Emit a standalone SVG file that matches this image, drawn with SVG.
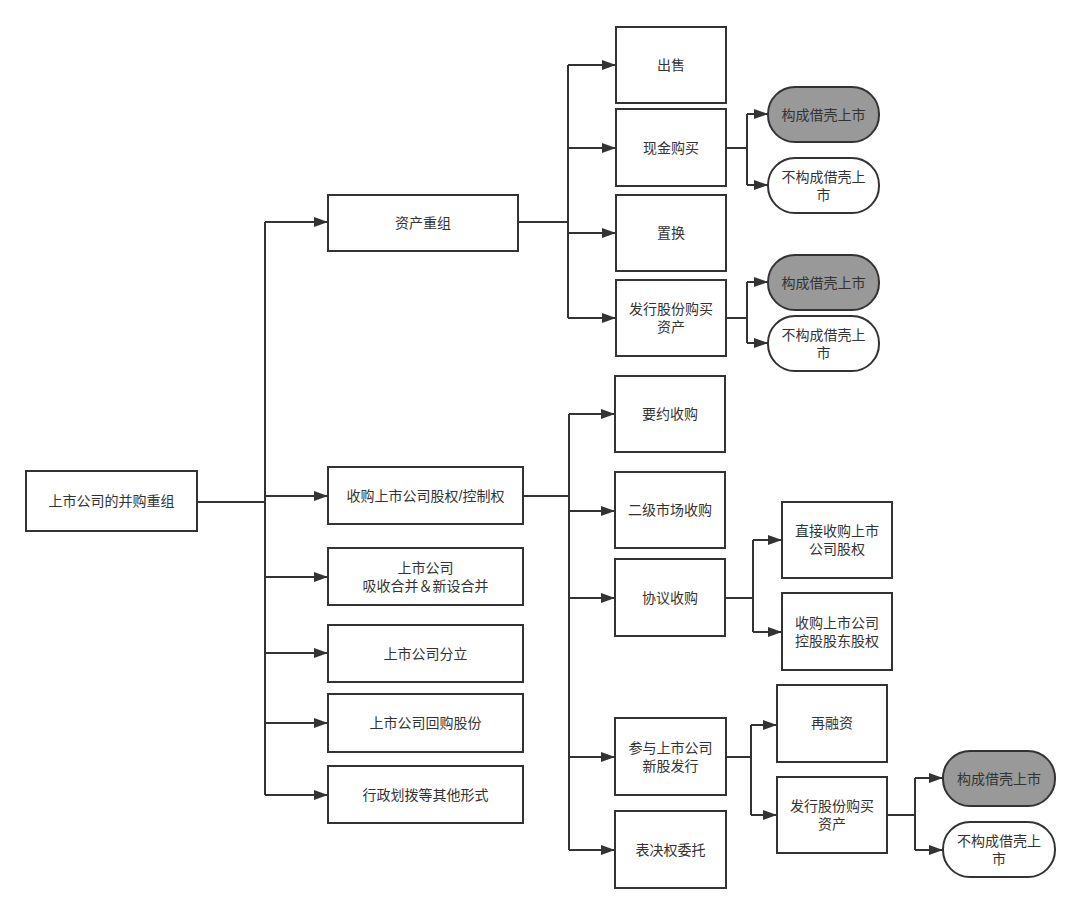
<svg xmlns="http://www.w3.org/2000/svg" width="1080" height="915" viewBox="0 0 1080 915">
<style>
.b{fill:#fff;stroke:#333;stroke-width:2}
.g{fill:#999;stroke:#333;stroke-width:2}
.t{font-family:"Liberation Sans","Noto Sans CJK SC",sans-serif;font-size:14px;fill:#333;text-anchor:middle;dominant-baseline:central}
.c{fill:none;stroke:#333;stroke-width:2}
.a{marker-end:url(#arr)}
</style>
<defs>
<marker id="arr" viewBox="0 0 14 10" refX="14" refY="5" markerWidth="14" markerHeight="10" markerUnits="userSpaceOnUse" orient="auto"><path d="M0,0 L14,5 L0,10 z" fill="#333"/></marker>
</defs>
<rect width="1080" height="915" fill="#fff"/>
<g id="connectors">
<path class="c" d="M197,502 H265 M265,222 V795"/>
<path class="c a" d="M265,222 H328"/>
<path class="c a" d="M265,496 H328"/>
<path class="c a" d="M265,577 H328"/>
<path class="c a" d="M265,653 H328"/>
<path class="c a" d="M265,723 H328"/>
<path class="c a" d="M265,795 H328"/>
<path class="c" d="M518,222 H568 M568,65 V318"/>
<path class="c a" d="M568,65 H616"/>
<path class="c a" d="M568,148 H616"/>
<path class="c a" d="M568,233 H616"/>
<path class="c a" d="M568,318 H616"/>
<path class="c" d="M726,148 H747 M747,114 V185"/>
<path class="c a" d="M747,114 H768"/>
<path class="c a" d="M747,185 H768"/>
<path class="c" d="M726,318 H747 M747,282 V343"/>
<path class="c a" d="M747,282 H768"/>
<path class="c a" d="M747,343 H768"/>
<path class="c" d="M523,496 H569 M569,414 V850"/>
<path class="c a" d="M569,414 H615"/>
<path class="c a" d="M569,511 H615"/>
<path class="c a" d="M569,598 H615"/>
<path class="c a" d="M569,757 H615"/>
<path class="c a" d="M569,850 H615"/>
<path class="c" d="M725,598 H753 M753,540 V632"/>
<path class="c a" d="M753,540 H782"/>
<path class="c a" d="M753,632 H782"/>
<path class="c" d="M726,757 H751 M751,725 V815"/>
<path class="c a" d="M751,725 H777"/>
<path class="c a" d="M751,815 H777"/>
<path class="c" d="M887,815 H915 M915,778 V850"/>
<path class="c a" d="M915,778 H943"/>
<path class="c a" d="M915,850 H943"/>
</g>
<g id="root"><rect class="b" x="26" y="471" width="171" height="60"/><text class="t" x="111.5" y="501">上市公司的并购重组</text></g>
<g id="zczz"><rect class="b" x="328" y="195" width="190" height="56"/><text class="t" x="423" y="223">资产重组</text></g>
<g id="sggq"><rect class="b" x="328" y="467" width="195" height="57"/><text class="t" x="425.5" y="495.5">收购上市公司股权/控制权</text></g>
<g id="xshb"><rect class="b" x="328" y="548" width="195" height="57"/><text class="t" x="425.5" y="567.5">上市公司</text><text class="t" x="425.5" y="585.5">吸收合并＆新设合并</text></g>
<g id="fl"><rect class="b" x="328" y="625" width="195" height="57"/><text class="t" x="425.5" y="653.5">上市公司分立</text></g>
<g id="hg"><rect class="b" x="328" y="694" width="195" height="58"/><text class="t" x="425.5" y="723">上市公司回购股份</text></g>
<g id="xzhb"><rect class="b" x="328" y="766" width="195" height="57"/><text class="t" x="425.5" y="794.5">行政划拨等其他形式</text></g>
<g id="cs"><rect class="b" x="616" y="27" width="110" height="76"/><text class="t" x="671" y="65">出售</text></g>
<g id="xjgm"><rect class="b" x="616" y="109" width="110" height="77"/><text class="t" x="671" y="147.5">现金购买</text></g>
<g id="zh"><rect class="b" x="616" y="195" width="110" height="76"/><text class="t" x="671" y="233">置换</text></g>
<g id="fxgf1"><rect class="b" x="616" y="280" width="110" height="76"/><text class="t" x="671" y="309">发行股份购买</text><text class="t" x="671" y="327">资产</text></g>
<g id="gc1"><rect class="g" x="768" y="87" width="111" height="55" rx="27" ry="27"/><text class="t" x="823.5" y="114.5">构成借壳上市</text></g>
<g id="bgc1"><rect class="b" x="768" y="158" width="111" height="55" rx="27" ry="27"/><text class="t" x="823.5" y="176.5">不构成借壳上</text><text class="t" x="823.5" y="194.5">市</text></g>
<g id="gc2"><rect class="g" x="768" y="255" width="111" height="55" rx="27" ry="27"/><text class="t" x="823.5" y="282.5">构成借壳上市</text></g>
<g id="bgc2"><rect class="b" x="768" y="316" width="111" height="55" rx="27" ry="27"/><text class="t" x="823.5" y="334.5">不构成借壳上</text><text class="t" x="823.5" y="352.5">市</text></g>
<g id="yysg"><rect class="b" x="615" y="376" width="110" height="76"/><text class="t" x="670" y="414">要约收购</text></g>
<g id="ejsc"><rect class="b" x="615" y="472" width="110" height="76"/><text class="t" x="670" y="510">二级市场收购</text></g>
<g id="xysg"><rect class="b" x="615" y="559" width="110" height="77"/><text class="t" x="670" y="597.5">协议收购</text></g>
<g id="zjsg"><rect class="b" x="782" y="502" width="110" height="76"/><text class="t" x="837" y="531">直接收购上市</text><text class="t" x="837" y="549">公司股权</text></g>
<g id="sgkg"><rect class="b" x="782" y="593" width="110" height="77"/><text class="t" x="837" y="622.5">收购上市公司</text><text class="t" x="837" y="640.5">控股股东股权</text></g>
<g id="cy"><rect class="b" x="615" y="718" width="111" height="77"/><text class="t" x="670.5" y="747.5">参与上市公司</text><text class="t" x="670.5" y="765.5">新股发行</text></g>
<g id="bjq"><rect class="b" x="615" y="811" width="111" height="77"/><text class="t" x="670.5" y="849.5">表决权委托</text></g>
<g id="zrz"><rect class="b" x="777" y="685" width="110" height="77"/><text class="t" x="832" y="723">再融资</text></g>
<g id="fxgf2"><rect class="b" x="777" y="777" width="110" height="76"/><text class="t" x="832" y="805.5">发行股份购买</text><text class="t" x="832" y="823.5">资产</text></g>
<g id="gc3"><rect class="g" x="943" y="751" width="112" height="55" rx="27" ry="27"/><text class="t" x="999" y="778.5">构成借壳上市</text></g>
<g id="bgc3"><rect class="b" x="943" y="822" width="112" height="55" rx="27" ry="27"/><text class="t" x="999" y="840.5">不构成借壳上</text><text class="t" x="999" y="858.5">市</text></g>
</svg>
